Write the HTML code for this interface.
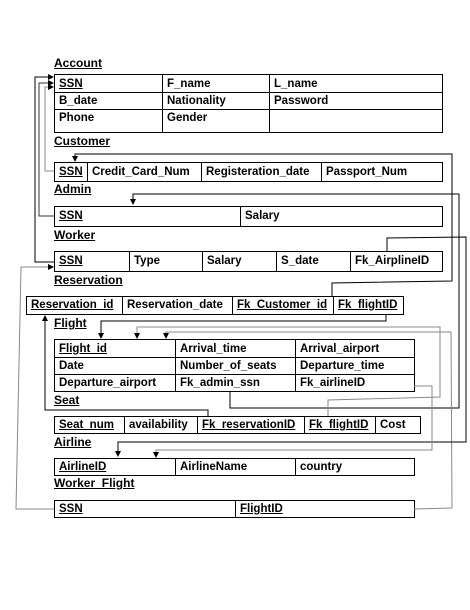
<!DOCTYPE html>
<html><head><style>
body{margin:0;background:#fff;width:470px;height:610px;position:relative;overflow:hidden;font-family:"Liberation Sans",Arial,sans-serif;font-weight:bold;font-size:11.5px;color:#000}
.l{position:absolute;text-decoration:underline;font-size:12px}
.t{position:absolute;border:1.3px solid #000;box-sizing:border-box}
.c{position:absolute;border-left:1.3px solid #000;padding-left:4px;box-sizing:border-box;white-space:nowrap;line-height:16px}
.h{position:absolute;left:0;right:0;border-top:1.3px solid #000}
u{text-decoration:underline}
svg{position:absolute;left:0;top:0}
</style></head><body>
<div class="l" style="left:54px;top:56px">Account</div>
<div class="t" style="left:54px;top:74px;width:389px;height:59px">
 <div class="h" style="top:17px"></div><div class="h" style="top:34px"></div>
 <div class="c" style="left:0;top:1px;border-left:none;height:56px;line-height:17px"><u>SSN</u><br>B_date<br>Phone</div>
 <div class="c" style="left:107px;top:0;height:57px;padding-top:1px;line-height:17px">F_name<br>Nationality<br>Gender</div>
 <div class="c" style="left:214px;top:0;height:57px;padding-top:1px;line-height:17px">L_name<br>Password<br></div>
</div>
<div class="l" style="left:54px;top:134px">Customer</div>
<div class="t" style="left:54px;top:162px;width:389px;height:20px">
 <div class="c" style="left:0;top:1px;border-left:none"><u>SSN</u></div>
 <div class="c" style="left:32px;top:0;height:18px;padding-top:1px">Credit_Card_Num</div>
 <div class="c" style="left:146px;top:0;height:18px;padding-top:1px">Registeration_date</div>
 <div class="c" style="left:266px;top:0;height:18px;padding-top:1px">Passport_Num</div>
</div>
<div class="l" style="left:54px;top:182px">Admin</div>
<div class="t" style="left:54px;top:206px;width:389px;height:21px">
 <div class="c" style="left:0;top:1px;border-left:none"><u>SSN</u></div>
 <div class="c" style="left:185px;top:0;height:19px;padding-top:1px">Salary</div>
</div>
<div class="l" style="left:54px;top:228px">Worker</div>
<div class="t" style="left:54px;top:251px;width:389px;height:21px">
 <div class="c" style="left:0;top:1px;border-left:none"><u>SSN</u></div>
 <div class="c" style="left:74px;top:0;height:19px;padding-top:1px">Type</div>
 <div class="c" style="left:147px;top:0;height:19px;padding-top:1px">Salary</div>
 <div class="c" style="left:221px;top:0;height:19px;padding-top:1px">S_date</div>
 <div class="c" style="left:295px;top:0;height:19px;padding-top:1px">Fk_AirplineID</div>
</div>
<div class="l" style="left:54px;top:273px">Reservation</div>
<div class="t" style="left:26px;top:296px;width:378px;height:19px">
 <div class="c" style="left:0;top:0;border-left:none"><u>Reservation_id</u></div>
 <div class="c" style="left:95px;top:0;height:17px">Reservation_date</div>
 <div class="c" style="left:205px;top:0;height:17px"><u>Fk_Customer_id</u></div>
 <div class="c" style="left:306px;top:0;height:17px"><u>Fk_flightID</u></div>
</div>
<div class="l" style="left:54px;top:316px">Flight</div>
<div class="t" style="left:54px;top:339px;width:361px;height:53px">
 <div class="h" style="top:17px"></div><div class="h" style="top:34px"></div>
 <div class="c" style="left:0;top:1px;border-left:none;height:50px;line-height:17px"><u>Flight_id</u><br>Date<br>Departure_airport</div>
 <div class="c" style="left:120px;top:0;height:51px;padding-top:1px;line-height:17px">Arrival_time<br>Number_of_seats<br>Fk_admin_ssn</div>
 <div class="c" style="left:240px;top:0;height:51px;padding-top:1px;line-height:17px">Arrival_airport<br>Departure_time<br>Fk_airlineID</div>
</div>
<div class="l" style="left:54px;top:393px">Seat</div>
<div class="t" style="left:54px;top:416px;width:367px;height:18px">
 <div class="c" style="left:0;top:0;border-left:none"><u>Seat_num</u></div>
 <div class="c" style="left:69px;top:0;height:16px">availability</div>
 <div class="c" style="left:142px;top:0;height:16px"><u>Fk_reservationID</u></div>
 <div class="c" style="left:249px;top:0;height:16px"><u>Fk_flightID</u></div>
 <div class="c" style="left:320px;top:0;height:16px">Cost</div>
</div>
<div class="l" style="left:54px;top:435px">Airline</div>
<div class="t" style="left:54px;top:458px;width:361px;height:18px">
 <div class="c" style="left:0;top:0;border-left:none"><u>AirlineID</u></div>
 <div class="c" style="left:120px;top:0;height:16px">AirlineName</div>
 <div class="c" style="left:240px;top:0;height:16px">country</div>
</div>
<div class="l" style="left:54px;top:476px">Worker_Flight</div>
<div class="t" style="left:54px;top:500px;width:361px;height:18px">
 <div class="c" style="left:0;top:0;border-left:none"><u>SSN</u></div>
 <div class="c" style="left:180px;top:0;height:16px"><u>FlightID</u></div>
</div>
<svg width="470" height="610" fill="none" stroke-width="1">
<defs><marker id="a" markerWidth="6" markerHeight="6" refX="5" refY="3" orient="auto"><path d="M0,0L6,3L0,6z" fill="#000" stroke="none"/></marker></defs>
<path d="M54,262H35V77H53" stroke="#000" marker-end="url(#a)"/>
<path d="M54,216H39V83H53" stroke="#333" marker-end="url(#a)"/>
<path d="M54,171H45V87H53" stroke="#888" marker-end="url(#a)"/>
<path d="M54,509H16L21,267H53" stroke="#888" marker-end="url(#a)"/>
<path d="M332,296V283L452,281V154H75V161" stroke="#000" marker-end="url(#a)"/>
<path d="M230,391V408H459V194H133V204" stroke="#000" marker-end="url(#a)"/>
<path d="M386,314V321H101V338" stroke="#000" marker-end="url(#a)"/>
<path d="M328,416V400L440,397V327H137V338" stroke="#888" marker-end="url(#a)"/>
<path d="M414,509L452,508L451,332H166V338" stroke="#888" marker-end="url(#a)"/>
<path d="M387,251V238L466,237V442H118V456" stroke="#000" marker-end="url(#a)"/>
<path d="M414,386H432V450H156V457" stroke="#888" marker-end="url(#a)"/>
<path d="M208,416V410H45V316" stroke="#000" marker-end="url(#a)"/>
</svg>
</body></html>
